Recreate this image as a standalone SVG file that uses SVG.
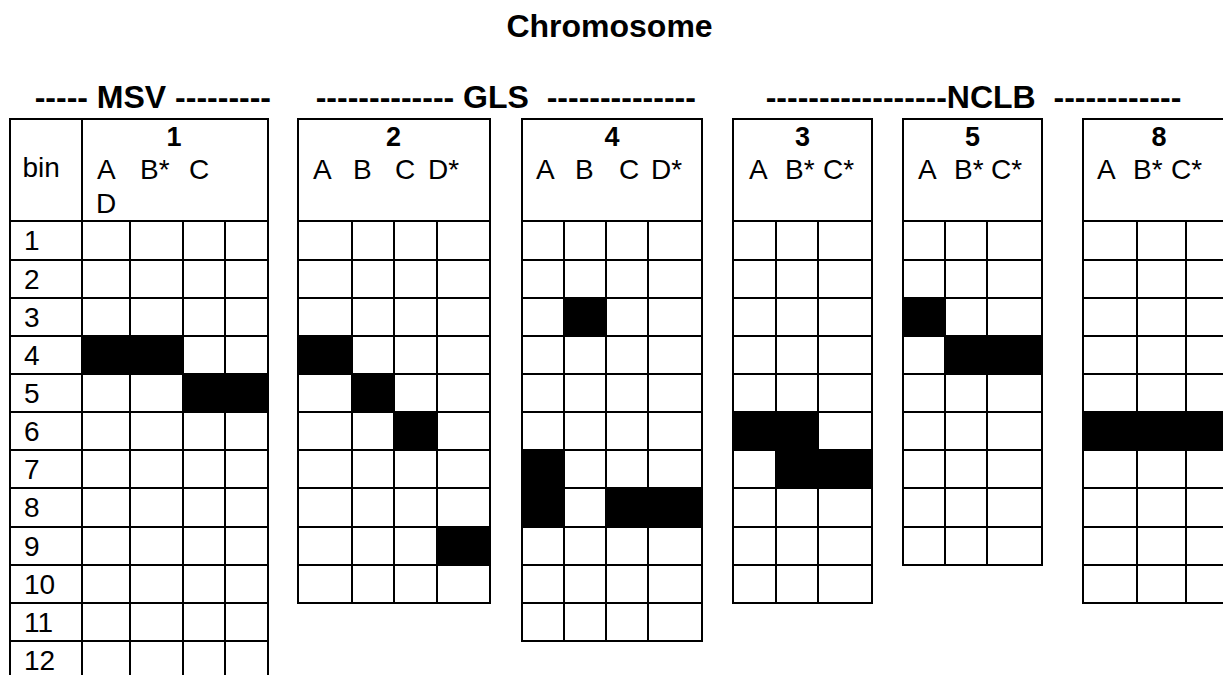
<svg xmlns="http://www.w3.org/2000/svg" width="1223" height="675" viewBox="0 0 1223 675">
<style>
.g{fill:none;stroke:#000;stroke-width:2;stroke-linecap:square}
.f{fill:#000}
.t{font-family:"Liberation Sans",Arial,sans-serif;font-size:28px;fill:#000}
.h{font-family:"Liberation Sans",Arial,sans-serif;font-size:32px;font-weight:bold;fill:#000}
.n{font-family:"Liberation Sans",Arial,sans-serif;font-size:27px;font-weight:bold;fill:#000;text-anchor:middle}
</style>
<rect width="1223" height="675" fill="#fff"/>
<g id="titles">
<text class="h" x="609.5" y="37" text-anchor="middle">Chromosome</text>
<text class="h" x="34.7" y="108" xml:space="preserve">----- MSV ---------</text>
<text class="h" x="315.7" y="108" xml:space="preserve">------------- GLS  --------------</text>
<text class="h" x="765.7" y="108" xml:space="preserve">-----------------NCLB  ------------</text>
</g>

<g id="table1">
<rect class="f" x="82" y="336" width="101" height="38"/>
<rect class="f" x="183" y="374" width="85" height="38"/>
<path class="g" d="M10 119H268V680M10 119V680M82 119V680M10 221H268M130 221V680M183 221V680M225 221V680M10 260H268M10 298H268M10 336H268M10 374H268M10 412H268M10 450H268M10 488H268M10 527H268M10 565H268M10 603H268M10 641H268"/>
<text class="t" x="22.5" y="177">bin</text>
<text class="n" x="174" y="146">1</text>
<text class="t" y="179"><tspan x="97">A</tspan><tspan x="140">B*</tspan><tspan x="189">C</tspan></text>
<text class="t" x="96" y="213">D</text>
<text class="t" x="24" y="250">1</text>
<text class="t" x="24" y="289">2</text>
<text class="t" x="24" y="327">3</text>
<text class="t" x="24" y="365">4</text>
<text class="t" x="24" y="403">5</text>
<text class="t" x="24" y="441">6</text>
<text class="t" x="24" y="479">7</text>
<text class="t" x="24" y="517">8</text>
<text class="t" x="24" y="556">9</text>
<text class="t" x="24" y="594">10</text>
<text class="t" x="24" y="632">11</text>
<text class="t" x="24" y="670">12</text>
</g>

<g id="table2">
<rect class="f" x="298" y="336" width="54" height="38"/>
<rect class="f" x="352" y="374" width="42" height="38"/>
<rect class="f" x="394" y="412" width="43" height="38"/>
<rect class="f" x="437" y="527" width="53" height="38"/>
<path class="g" d="M298 119H490V603H298ZM298 221H490M298 260H490M298 298H490M298 336H490M298 374H490M298 412H490M298 450H490M298 488H490M298 527H490M298 565H490M352 221V603M394 221V603M437 221V603"/>
<text class="n" x="393.5" y="146">2</text>
<text class="t" y="179"><tspan x="313">A</tspan><tspan x="353">B</tspan><tspan x="395">C</tspan><tspan x="428">D*</tspan></text>
</g>

<g id="table4">
<rect class="f" x="564" y="298" width="42" height="38"/>
<rect class="f" x="522" y="450" width="42" height="77"/>
<rect class="f" x="606" y="488" width="96" height="39"/>
<path class="g" d="M522 119H702V641H522ZM522 221H702M522 260H702M522 298H702M522 336H702M522 374H702M522 412H702M522 450H702M522 488H702M522 527H702M522 565H702M522 603H702M564 221V641M606 221V641M648 221V641"/>
<text class="n" x="612" y="146">4</text>
<text class="t" y="179"><tspan x="536">A</tspan><tspan x="575">B</tspan><tspan x="619">C</tspan><tspan x="651">D*</tspan></text>
</g>

<g id="table3">
<rect class="f" x="733" y="412" width="85" height="38"/>
<rect class="f" x="776" y="450" width="96" height="38"/>
<path class="g" d="M733 119H872V603H733ZM733 221H872M733 260H872M733 298H872M733 336H872M733 374H872M733 412H872M733 450H872M733 488H872M733 527H872M733 565H872M776 221V603M818 221V603"/>
<text class="n" x="802.5" y="146">3</text>
<text class="t" y="179"><tspan x="749">A</tspan><tspan x="785">B*</tspan><tspan x="823">C*</tspan></text>
</g>

<g id="table5">
<rect class="f" x="903" y="298" width="42" height="38"/>
<rect class="f" x="945" y="336" width="97" height="38"/>
<path class="g" d="M903 119H1042V565H903ZM903 221H1042M903 260H1042M903 298H1042M903 336H1042M903 374H1042M903 412H1042M903 450H1042M903 488H1042M903 527H1042M945 221V565M987 221V565"/>
<text class="n" x="972.5" y="146">5</text>
<text class="t" y="179"><tspan x="918">A</tspan><tspan x="954">B*</tspan><tspan x="991">C*</tspan></text>
</g>

<g id="table8">
<rect class="f" x="1083" y="412" width="152" height="38"/>
<path class="g" d="M1083 119H1235V603H1083ZM1083 221H1235M1083 260H1235M1083 298H1235M1083 336H1235M1083 374H1235M1083 412H1235M1083 450H1235M1083 488H1235M1083 527H1235M1083 565H1235M1137 221V603M1186 221V603"/>
<text class="n" x="1159" y="146">8</text>
<text class="t" y="179"><tspan x="1097">A</tspan><tspan x="1133">B*</tspan><tspan x="1171">C*</tspan></text>
</g>
</svg>
